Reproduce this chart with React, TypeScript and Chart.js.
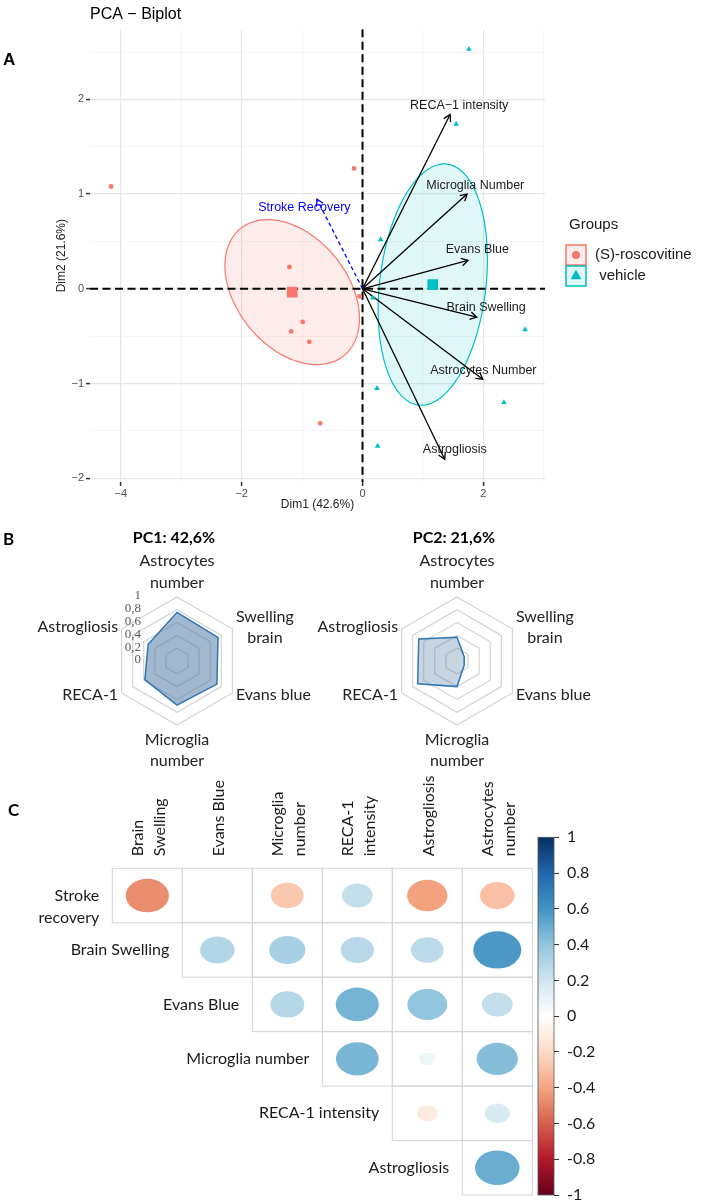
import React, { useEffect, useRef } from "react";
import { Chart, registerables } from "chart.js";

Chart.register(...registerables);

const SANS = "'Liberation Sans', Arial, Helvetica, sans-serif";
const HUM = "Lato, 'Open Sans', sans-serif";
const SERIF = "'Liberation Serif', 'DejaVu Serif', serif";

/* ---------------- Panel A : PCA biplot ---------------- */
const groupLabels = ["(S)-roscovitine", " vehicle"];
const roscovitineDim1 = [-4.16, -0.14, -1.21, -0.99, -1.18, -0.88, -0.7, -0.05];
const roscovitineDim2 = [1.08, 1.27, 0.23, -0.35, -0.45, -0.56, -1.42, -0.08];
const vehicleDim1 = [1.76, 1.55, 0.3, 0.17, 2.69, 0.24, 2.34, 0.25];
const vehicleDim2 = [2.53, 1.74, 0.52, -0.095, -0.43, -1.05, -1.2, -1.66];

const variableNames = ["RECA−1 intensity", "Microglia Number", "Evans Blue", "Brain Swelling", "Astrocytes Number", "Astrogliosis"];
const variableDim1 = [1.45, 1.73, 1.745, 1.89, 1.99, 1.36];
const variableDim2 = [1.84, 1.0, 0.3, -0.3, -0.955, -1.8];
const variableLabelDim1 = [1.6, 1.866, 1.9, 2.045, 2.0, 1.527];
const variableLabelDim2 = [1.94, 1.09, 0.41, -0.2, -0.867, -1.702];

const supplementaryNames = ["Stroke Recovery"];
const supplementaryDim1 = [-0.755];
const supplementaryDim2 = [0.947];
const supplementaryLabelDim1 = [-0.962];
const supplementaryLabelDim2 = [0.853];

const dim1Range = [-4.51, 3.02];
const dim2Range = [-2.04, 2.74];
const biplotTitle = "PCA − Biplot";
const dim1Title = "Dim1 (42.6%)";
const dim2Title = "Dim2 (21.6%)";
const legendTitle = "Groups";

/* ---------------- Panel B : radar charts ---------------- */
const radarAxisLabels = [["Astrocytes", "number"], ["Swelling", "brain"], ["Evans blue"], ["Microglia", "number"], ["RECA-1"], ["Astrogliosis"]];
const pc1Loadings = [0.76, 0.74, 0.72, 0.69, 0.58, 0.52];
const pc2Loadings = [0.37, 0.13, 0.13, 0.4, 0.71, 0.69];
const radarTickValues = [0, 0.2, 0.4, 0.6, 0.8, 1];
const radarTickLabels = ["0", "0,2", "0,4", "0,6", "0,8", "1"];
const pc1Title = "PC1: 42,6%";
const pc2Title = "PC2: 21,6%";

/* ---------------- Panel C : correlation matrix ---------------- */
const corrRowLabels = [["Stroke", "recovery"], ["Brain Swelling"], ["Evans Blue"], ["Microglia number"], ["RECA-1 intensity"], ["Astrogliosis"]];
const corrColLabels = [["Brain", "Swelling"], ["Evans Blue"], ["Microglia", "number"], ["RECA-1", "intensity"], ["Astrogliosis"], ["Astrocytes", "number"]];
const corrStroke = [-0.47, -0.005, -0.27, 0.24, -0.41, -0.3];
const corrBrainSwelling = [0.3, 0.33, 0.28, 0.27, 0.58];
const corrEvansBlue = [0.29, 0.47, 0.4, 0.24];
const corrMicroglia = [0.46, 0.07, 0.43];
const corrReca = [-0.11, 0.16];
const corrAstrogliosis = [0.5];
const corrRows = [corrStroke, corrBrainSwelling, corrEvansBlue, corrMicroglia, corrReca, corrAstrogliosis];
const colorbarTicks = [-1, -0.8, -0.6, -0.4, -0.2, 0, 0.2, 0.4, 0.6, 0.8, 1];
const rdbu = ["#67001F", "#B2182B", "#D6604D", "#F4A582", "#FDDBC7", "#FFFFFF", "#D1E5F0", "#92C5DE", "#4393C3", "#2166AC", "#053061"];

const RED = "#F8766D";
const TEAL = "#00BFC4";

/* ---------------- helpers ---------------- */
const mean = (a: number[]) => a.reduce((s, v) => s + v, 0) / a.length;
const fmtMinus = (v: number) => (v < 0 ? "−" + Math.abs(v) : String(v));

function hexToRgb(h: string) {
  const n = parseInt(h.slice(1), 16);
  return [(n >> 16) & 255, (n >> 8) & 255, n & 255];
}
function corrColor(v: number) {
  const t = (Math.max(-1, Math.min(1, v)) + 1) / 2 * (rdbu.length - 1);
  const i = Math.min(rdbu.length - 2, Math.floor(t));
  const f = t - i;
  const a = hexToRgb(rdbu[i]);
  const b = hexToRgb(rdbu[i + 1]);
  const c = a.map((x, k) => Math.round(x + (b[k] - x) * f));
  return `rgb(${c[0]},${c[1]},${c[2]})`;
}

// 95% confidence ellipse of the group mean, computed from the group's points
function confidenceEllipse(xs: number[], ys: number[], steps = 120) {
  const n = xs.length;
  const mx = mean(xs), my = mean(ys);
  let sxx = 0, syy = 0, sxy = 0;
  for (let i = 0; i < n; i++) {
    const dx = xs[i] - mx, dy = ys[i] - my;
    sxx += dx * dx; syy += dy * dy; sxy += dx * dy;
  }
  const a = sxx / (n - 1) / n, d = syy / (n - 1) / n, b = sxy / (n - 1) / n;
  const chi2 = 5.991;
  const tr = a + d, det = a * d - b * b;
  const disc = Math.sqrt(Math.max(0, tr * tr / 4 - det));
  const l1 = tr / 2 + disc, l2 = tr / 2 - disc;
  const theta = Math.abs(b) < 1e-12 ? (a >= d ? 0 : Math.PI / 2) : Math.atan2(l1 - a, b);
  const r1 = Math.sqrt(chi2 * l1), r2 = Math.sqrt(chi2 * Math.max(0, l2));
  const pts: [number, number][] = [];
  for (let k = 0; k <= steps; k++) {
    const t = (2 * Math.PI * k) / steps;
    const u = r1 * Math.cos(t), w = r2 * Math.sin(t);
    pts.push([mx + u * Math.cos(theta) - w * Math.sin(theta), my + u * Math.sin(theta) + w * Math.cos(theta)]);
  }
  return pts;
}

/* ---------------- Panel A config ---------------- */
function biplotConfig(): any {
  const arrowSets = variableNames.map((name, i) => ({
    label: name,
    data: [{ x: 0, y: 0 }, { x: variableDim1[i], y: variableDim2[i] }],
    showLine: true,
    borderColor: "#000",
    borderWidth: 1.3,
    pointRadius: 0,
  }));
  const suppSets = supplementaryNames.map((name, i) => ({
    label: name,
    data: [{ x: 0, y: 0 }, { x: supplementaryDim1[i], y: supplementaryDim2[i] }],
    showLine: true,
    borderColor: "#0000FF",
    borderWidth: 1.3,
    borderDash: [4, 3],
    pointRadius: 0,
  }));

  const plugin = {
    id: "biplotExtras",
    beforeDatasetsDraw(chart: any) {
      const { ctx, chartArea: ca } = chart;
      const x = chart.scales.x, y = chart.scales.y;
      ctx.save();
      ctx.beginPath();
      ctx.rect(ca.left, ca.top, ca.width, ca.height);
      ctx.clip();
      const groups = [
        { xs: roscovitineDim1, ys: roscovitineDim2, color: RED, fill: "rgba(248,118,109,0.14)" },
        { xs: vehicleDim1, ys: vehicleDim2, color: TEAL, fill: "rgba(0,191,196,0.12)" },
      ];
      for (const g of groups) {
        const pts = confidenceEllipse(g.xs, g.ys);
        ctx.beginPath();
        pts.forEach(([px, py], k) => {
          const X = x.getPixelForValue(px), Y = y.getPixelForValue(py);
          if (k) ctx.lineTo(X, Y); else ctx.moveTo(X, Y);
        });
        ctx.closePath();
        ctx.fillStyle = g.fill;
        ctx.fill();
        ctx.strokeStyle = g.color;
        ctx.lineWidth = 1.2;
        ctx.stroke();
      }
      const x0 = x.getPixelForValue(0), y0 = y.getPixelForValue(0);
      ctx.setLineDash([8, 4.5]);
      ctx.strokeStyle = "#000";
      ctx.lineWidth = 2;
      ctx.beginPath();
      ctx.moveTo(ca.left, y0); ctx.lineTo(ca.right, y0);
      ctx.moveTo(x0, ca.top); ctx.lineTo(x0, ca.bottom);
      ctx.stroke();
      ctx.restore();
    },
    afterDatasetsDraw(chart: any) {
      const { ctx } = chart;
      const x = chart.scales.x, y = chart.scales.y;
      const x0 = x.getPixelForValue(0), y0 = y.getPixelForValue(0);
      const head = (ex: number, ey: number, color: string) => {
        const X = x.getPixelForValue(ex), Y = y.getPixelForValue(ey);
        const ang = Math.atan2(Y - y0, X - x0);
        const L = 7.5;
        ctx.save();
        ctx.setLineDash([]);
        ctx.strokeStyle = color;
        ctx.lineWidth = 1.3;
        ctx.beginPath();
        ctx.moveTo(X - L * Math.cos(ang - Math.PI / 6), Y - L * Math.sin(ang - Math.PI / 6));
        ctx.lineTo(X, Y);
        ctx.lineTo(X - L * Math.cos(ang + Math.PI / 6), Y - L * Math.sin(ang + Math.PI / 6));
        ctx.stroke();
        ctx.restore();
      };
      variableDim1.forEach((vx, i) => head(vx, variableDim2[i], "#000"));
      supplementaryDim1.forEach((vx, i) => head(vx, supplementaryDim2[i], "#0000FF"));
      ctx.save();
      ctx.font = `12.5px ${SANS}`;
      ctx.textAlign = "center";
      ctx.textBaseline = "middle";
      ctx.fillStyle = "#1a1a1a";
      variableNames.forEach((n, i) => ctx.fillText(n, x.getPixelForValue(variableLabelDim1[i]), y.getPixelForValue(variableLabelDim2[i])));
      ctx.fillStyle = "#0000FF";
      supplementaryNames.forEach((n, i) => ctx.fillText(n, x.getPixelForValue(supplementaryLabelDim1[i]), y.getPixelForValue(supplementaryLabelDim2[i])));
      ctx.restore();
    },
    afterDraw(chart: any) {
      const { ctx, chartArea: ca } = chart;
      ctx.save();
      ctx.fillStyle = "#000";
      ctx.font = `16px ${SANS}`;
      ctx.textAlign = "left";
      ctx.textBaseline = "middle";
      ctx.fillText(biplotTitle, ca.left, 15);
      ctx.font = `12px ${SANS}`;
      ctx.fillStyle = "#222";
      ctx.textAlign = "center";
      ctx.fillText(dim1Title, (ca.left + ca.right) / 2, ca.bottom + 23);
      ctx.save();
      ctx.translate(ca.left - 28, (ca.top + ca.bottom) / 2);
      ctx.rotate(-Math.PI / 2);
      ctx.fillText(dim2Title, 0, 0);
      ctx.restore();
      // legend
      const lx = ca.right + 24;
      ctx.textAlign = "left";
      ctx.font = `15px ${SANS}`;
      ctx.fillStyle = "#1a1a1a";
      ctx.fillText(legendTitle, lx, 225);
      const keys = [
        { color: RED, fill: "rgba(248,118,109,0.14)", shape: "circle", y: 255 },
        { color: TEAL, fill: "rgba(0,191,196,0.12)", shape: "triangle", y: 276 },
      ];
      keys.forEach((k, i) => {
        const bx = lx - 3, by = k.y - 10;
        ctx.fillStyle = k.fill;
        ctx.fillRect(bx, by, 20, 20);
        ctx.strokeStyle = k.color;
        ctx.lineWidth = 1.5;
        ctx.strokeRect(bx, by, 20, 20);
        ctx.fillStyle = k.color;
        ctx.beginPath();
        if (k.shape === "circle") {
          ctx.arc(bx + 10, k.y, 4, 0, Math.PI * 2);
        } else {
          const r = 6.3;
          ctx.moveTo(bx + 10, k.y - r);
          ctx.lineTo(bx + 10 + r * 0.866, k.y + r * 0.5);
          ctx.lineTo(bx + 10 - r * 0.866, k.y + r * 0.5);
          ctx.closePath();
        }
        ctx.fill();
        ctx.fillStyle = "#1a1a1a";
        ctx.fillText(groupLabels[i], lx + 26, k.y);
      });
      ctx.restore();
    },
  };

  return {
    type: "scatter",
    data: {
      datasets: [
        { label: "mean roscovitine", data: [{ x: mean(roscovitineDim1), y: mean(roscovitineDim2) }], pointStyle: "rect", pointRadius: 7.5, backgroundColor: RED, borderWidth: 0 },
        { label: "mean vehicle", data: [{ x: mean(vehicleDim1), y: mean(vehicleDim2) }], pointStyle: "rect", pointRadius: 7.5, backgroundColor: TEAL, borderWidth: 0 },
        { label: groupLabels[0], data: roscovitineDim1.map((v, i) => ({ x: v, y: roscovitineDim2[i] })), pointStyle: "circle", pointRadius: 2.4, backgroundColor: RED, borderWidth: 0 },
        { label: groupLabels[1], data: vehicleDim1.map((v, i) => ({ x: v, y: vehicleDim2[i] })), pointStyle: "triangle", pointRadius: 3.3, backgroundColor: TEAL, borderWidth: 0 },
        ...arrowSets,
        ...suppSets,
      ],
    },
    options: {
      responsive: false,
      animation: false,
      layout: { padding: { left: 0, top: 29.3, right: 157, bottom: 0 } },
      plugins: { legend: { display: false }, tooltip: { enabled: false }, title: { display: false } },
      scales: {
        x: {
          type: "linear",
          min: dim1Range[0],
          max: dim1Range[1],
          afterFit: (s: any) => { s.height = 38; },
          border: { display: false },
          grid: {
            color: (c: any) => (c.tick && c.tick.value % 2 === 0 ? "#E6E6E6" : "#F3F3F3"),
            lineWidth: (c: any) => (c.tick && c.tick.value % 2 === 0 ? 1.2 : 0.8),
            tickColor: (c: any) => (c.tick && c.tick.value % 2 === 0 ? "#333" : "rgba(0,0,0,0)"),
            tickLength: 4,
            tickWidth: 1.5,
          },
          ticks: {
            stepSize: 1,
            includeBounds: false,
            autoSkip: false,
            maxRotation: 0,
            padding: 1,
            color: "#4D4D4D",
            font: { family: SANS, size: 11 },
            callback: (v: number) => (v % 2 === 0 ? fmtMinus(v) : ""),
          },
        },
        y: {
          type: "linear",
          min: dim2Range[0],
          max: dim2Range[1],
          afterFit: (s: any) => { s.width = 90; },
          border: { display: false },
          grid: {
            color: (c: any) => (c.tick && Number.isInteger(c.tick.value) ? "#E6E6E6" : "#F3F3F3"),
            lineWidth: (c: any) => (c.tick && Number.isInteger(c.tick.value) ? 1.2 : 0.8),
            tickColor: (c: any) => (c.tick && Number.isInteger(c.tick.value) ? "#333" : "rgba(0,0,0,0)"),
            tickLength: 4,
            tickWidth: 1.5,
          },
          ticks: {
            stepSize: 0.5,
            includeBounds: false,
            autoSkip: false,
            padding: 2,
            color: "#4D4D4D",
            font: { family: SANS, size: 11 },
            callback: (v: number) => (Number.isInteger(v) ? fmtMinus(v) : ""),
          },
        },
      },
    },
    plugins: [plugin],
  };
}

/* ---------------- Panel B config ---------------- */
function radarConfig(values: number[], title: string, showTicks: boolean, fill: string): any {
  const plugin = {
    id: "radarExtras",
    afterDraw(chart: any) {
      const s = chart.scales.r;
      const ctx = chart.ctx;
      const cx = s.xCenter, cy = s.yCenter, R = s.drawingArea;
      ctx.save();
      ctx.textAlign = "center";
      ctx.textBaseline = "middle";
      ctx.fillStyle = "#000";
      ctx.font = `bold 16px ${HUM}`;
      ctx.fillText(title, cx - 3, cy - 123);
      ctx.font = `16px ${HUM}`;
      ctx.fillStyle = "#222";
      const lh = 21.3;
      radarAxisLabels.forEach((lines, i) => {
        const p = s.getPointPosition(i, R + 4);
        const deg = Math.round((s.getIndexAngle(i) * 180) / Math.PI) % 360;
        const bw = Math.max(...lines.map((l) => ctx.measureText(l).width));
        const bh = lines.length * lh;
        let bx = p.x, by = p.y;
        if (deg === 0) by = p.y - bh / 2;
        else if (deg === 180) by = p.y + bh / 2;
        else if (deg < 180) bx = p.x + bw / 2;
        else bx = p.x - bw / 2;
        lines.forEach((l, k) => ctx.fillText(l, bx, by - bh / 2 + lh / 2 + k * lh));
      });
      if (showTicks) {
        ctx.font = `13px ${SERIF}`;
        ctx.fillStyle = "#595959";
        ctx.textAlign = "right";
        radarTickValues.forEach((v, k) => {
          const d = s.getDistanceFromCenterForValue(v);
          ctx.fillText(radarTickLabels[k], cx - 36, cy - d - 1);
        });
      }
      ctx.restore();
    },
  };
  return {
    type: "radar",
    data: {
      labels: radarAxisLabels.map((l) => l.join(" ")),
      datasets: [{ data: values, borderColor: "#2E75B6", borderWidth: 1.5, backgroundColor: fill, fill: true, pointRadius: 0, tension: 0 }],
    },
    options: {
      responsive: false,
      animation: false,
      layout: { padding: { left: 93, top: 72, right: 79, bottom: 55 } },
      plugins: { legend: { display: false }, tooltip: { enabled: false } },
      scales: {
        r: {
          min: 0,
          max: 1,
          ticks: { display: false, stepSize: 0.2 },
          grid: { color: "#D3D3D3", lineWidth: 1.2 },
          angleLines: { display: false },
          pointLabels: { display: false },
        },
      },
    },
    plugins: [plugin],
  };
}

/* ---------------- Panel C config ---------------- */
function corrConfig(): any {
  const points: any[] = [];
  corrRows.forEach((row, i) => row.forEach((v, k) => points.push({ x: i + k + 0.5, y: i + 0.5, v })));
  const plugin = {
    id: "corrExtras",
    beforeDatasetsDraw(chart: any) {
      const { ctx } = chart;
      const x = chart.scales.x, y = chart.scales.y;
      ctx.save();
      ctx.strokeStyle = "#D4D4D4";
      ctx.lineWidth = 1;
      corrRows.forEach((row, i) => row.forEach((_v, k) => {
        const j = i + k;
        const x1 = x.getPixelForValue(j), x2 = x.getPixelForValue(j + 1);
        const y1 = y.getPixelForValue(i), y2 = y.getPixelForValue(i + 1);
        ctx.strokeRect(x1, y1, x2 - x1, y2 - y1);
      }));
      ctx.restore();
    },
    afterDatasetsDraw(chart: any) {
      const { ctx } = chart;
      const x = chart.scales.x, y = chart.scales.y;
      const cw = x.getPixelForValue(1) - x.getPixelForValue(0);
      const chh = y.getPixelForValue(1) - y.getPixelForValue(0);
      const meta = chart.getDatasetMeta(0);
      ctx.save();
      meta.data.forEach((el: any, idx: number) => {
        const v = points[idx].v;
        const s = Math.sqrt(Math.abs(v)) * 0.45;
        ctx.fillStyle = corrColor(v);
        ctx.beginPath();
        ctx.ellipse(el.x, el.y, s * cw, s * chh, 0, 0, Math.PI * 2);
        ctx.fill();
      });
      ctx.restore();
    },
    afterDraw(chart: any) {
      const { ctx, chartArea: ca } = chart;
      const x = chart.scales.x, y = chart.scales.y, cb = chart.scales.cbar;
      ctx.save();
      ctx.font = `16px ${HUM}`;
      ctx.fillStyle = "#1a1a1a";
      ctx.textBaseline = "middle";
      // column headers (rotated)
      const topY = y.getPixelForValue(0);
      corrColLabels.forEach((lines, j) => {
        const cxp = x.getPixelForValue(j + 0.5) + 1.5;
        lines.forEach((l, k) => {
          ctx.save();
          ctx.translate(cxp + (k - (lines.length - 1) / 2) * 21.5, topY - 12);
          ctx.rotate(-Math.PI / 2);
          ctx.textAlign = "left";
          ctx.fillText(l, 0, 0);
          ctx.restore();
        });
      });
      // row labels
      ctx.textAlign = "right";
      corrRowLabels.forEach((lines, i) => {
        const rx = x.getPixelForValue(i) - 13;
        const ry = y.getPixelForValue(i + 0.5);
        lines.forEach((l, k) => ctx.fillText(l, rx, ry + k * 22));
      });
      // colour bar
      const bTop = cb.getPixelForValue(1), bBot = cb.getPixelForValue(-1);
      const bx2 = ca.right, bx1 = ca.right - 16;
      const g = ctx.createLinearGradient(0, bTop, 0, bBot);
      rdbu.forEach((c, k) => g.addColorStop(1 - k / (rdbu.length - 1), c));
      ctx.fillStyle = g;
      ctx.fillRect(bx1, bTop, bx2 - bx1, bBot - bTop);
      ctx.strokeStyle = "#555";
      ctx.lineWidth = 0.8;
      ctx.strokeRect(bx1, bTop, bx2 - bx1, bBot - bTop);
      ctx.restore();
    },
  };
  return {
    type: "scatter",
    data: { datasets: [{ data: points, pointRadius: 0, pointHoverRadius: 0 }] },
    options: {
      responsive: false,
      animation: false,
      layout: { padding: { left: 112.3, top: 67.3, right: 88, bottom: 19 } },
      plugins: { legend: { display: false }, tooltip: { enabled: false } },
      scales: {
        x: { type: "linear", display: false, min: 0, max: 6.31 },
        y: { type: "linear", display: false, reverse: true, min: -0.569, max: 6 },
        cbar: {
          type: "linear",
          position: "right",
          min: colorbarTicks[0],
          max: colorbarTicks[colorbarTicks.length - 1],
          afterFit: (s: any) => { s.width = 60; },
          afterBuildTicks: (s: any) => { s.ticks = colorbarTicks.map((v) => ({ value: v })); },
          border: { display: false },
          grid: { drawOnChartArea: false, drawTicks: true, tickLength: 5, tickColor: "#333", tickWidth: 1 },
          ticks: {
            autoSkip: false,
            padding: 8,
            color: "#1a1a1a",
            font: { family: HUM, size: 16 },
            callback: (v: number) => String(Math.round(v * 10) / 10),
          },
        },
      },
    },
    plugins: [plugin],
  };
}

/* ---------------- components ---------------- */
function ChartCanvas({ left, top, width, height, build }: { left: number; top: number; width: number; height: number; build: () => any }) {
  const ref = useRef<HTMLCanvasElement>(null);
  useEffect(() => {
    const chart = new Chart(ref.current as HTMLCanvasElement, build());
    return () => chart.destroy();
  }, []);
  return (
    <canvas
      ref={ref}
      width={width}
      height={height}
      style={{ position: "absolute", left, top, width, height }}
    />
  );
}

export default function App() {
  const letter = (t: string, left: number, top: number, family: string) => (
    <div style={{ position: "absolute", left, top, font: `bold 17px ${family}`, lineHeight: "17px", color: "#000" }}>{t}</div>
  );
  return (
    <div style={{ position: "absolute", left: 0, top: 0, width: 702, height: 1202, overflow: "hidden", background: "#fff" }}>
      <ChartCanvas left={0} top={0} width={702} height={520} build={biplotConfig} />
      <ChartCanvas left={20} top={525} width={300} height={255} build={() => radarConfig(pc1Loadings, pc1Title, true, "rgba(68,114,160,0.5)")} />
      <ChartCanvas left={300} top={525} width={300} height={255} build={() => radarConfig(pc2Loadings, pc2Title, false, "rgba(68,114,160,0.3)")} />
      <ChartCanvas left={0} top={770} width={702} height={444} build={corrConfig} />
      {letter("A", 3, 51, SANS)}
      {letter("B", 3, 530, HUM)}
      {letter("C", 8, 801, HUM)}
    </div>
  );
}
